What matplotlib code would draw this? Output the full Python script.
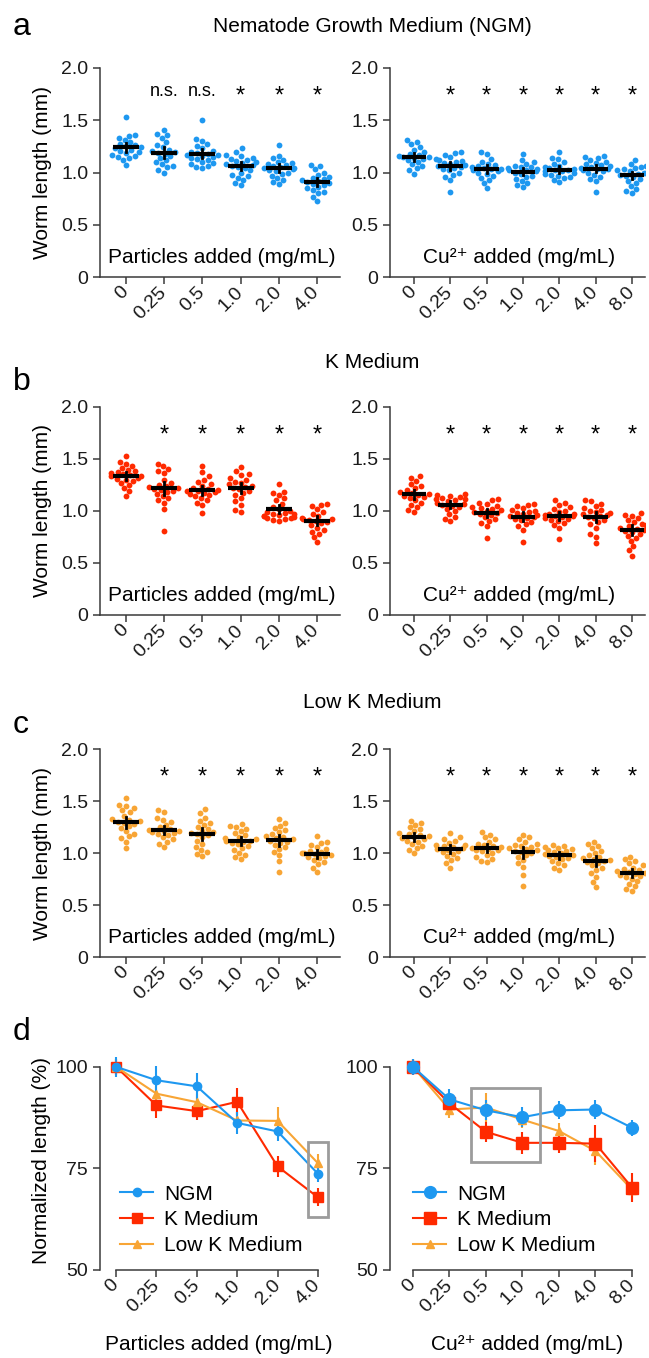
import numpy as np
import pandas as pd
import matplotlib
matplotlib.use('Agg')
import matplotlib.pyplot as plt
import seaborn as sns
from matplotlib.patches import Rectangle
from matplotlib.lines import Line2D

plt.rcParams['font.family'] = ['Liberation Sans', 'DejaVu Sans']

particle_doses = ['0', '0.25', '0.5', '1.0', '2.0', '4.0']
copper_doses = ['0', '0.25', '0.5', '1.0', '2.0', '4.0', '8.0']

# worm lengths (mm), one list per dose
ngm_particles = [
    [1.53, 1.36, 1.35, 1.33, 1.31, 1.29, 1.27, 1.26, 1.25, 1.24, 1.23, 1.22, 1.21, 1.20, 1.19, 1.17, 1.16, 1.15, 1.14, 1.12, 1.07],
    [1.41, 1.37, 1.36, 1.33, 1.29, 1.26, 1.24, 1.22, 1.21, 1.20, 1.19, 1.18, 1.16, 1.14, 1.12, 1.10, 1.08, 1.06, 1.05, 1.02, 1.00],
    [1.50, 1.32, 1.30, 1.27, 1.25, 1.23, 1.21, 1.20, 1.19, 1.18, 1.17, 1.16, 1.15, 1.13, 1.12, 1.10, 1.09, 1.08, 1.06, 1.05, 1.04, 1.14, 1.17],
    [1.23, 1.20, 1.17, 1.16, 1.14, 1.12, 1.10, 1.09, 1.08, 1.07, 1.06, 1.05, 1.04, 1.02, 1.00, 0.98, 0.97, 0.95, 0.93, 0.90, 0.88, 1.11, 1.13],
    [1.26, 1.16, 1.14, 1.12, 1.10, 1.09, 1.07, 1.06, 1.05, 1.04, 1.03, 1.02, 1.01, 1.00, 0.99, 0.97, 0.95, 0.93, 0.91, 0.89, 1.04, 1.08],
    [1.07, 1.06, 1.03, 1.00, 0.98, 0.96, 0.94, 0.93, 0.92, 0.91, 0.90, 0.89, 0.88, 0.86, 0.85, 0.83, 0.81, 0.80, 0.77, 0.73, 0.95],
]
ngm_copper = [
    [1.31, 1.29, 1.27, 1.24, 1.22, 1.20, 1.18, 1.17, 1.16, 1.15, 1.14, 1.13, 1.12, 1.10, 1.08, 1.06, 1.04, 1.02, 0.99, 1.15],
    [1.20, 1.19, 1.17, 1.15, 1.13, 1.11, 1.10, 1.08, 1.07, 1.06, 1.05, 1.04, 1.03, 1.02, 1.00, 0.98, 0.96, 0.93, 0.81, 1.09, 1.12],
    [1.20, 1.18, 1.13, 1.10, 1.08, 1.06, 1.05, 1.04, 1.03, 1.02, 1.01, 1.00, 0.99, 0.97, 0.95, 0.93, 0.90, 0.85, 1.07, 1.03],
    [1.18, 1.12, 1.10, 1.08, 1.06, 1.05, 1.04, 1.03, 1.02, 1.01, 1.00, 0.99, 0.97, 0.96, 0.94, 0.92, 0.90, 0.88, 0.86, 1.05, 1.02],
    [1.20, 1.14, 1.13, 1.10, 1.08, 1.06, 1.05, 1.04, 1.03, 1.02, 1.01, 1.00, 0.99, 0.98, 0.96, 0.95, 0.93, 0.91, 1.02, 1.01, 0.97],
    [1.16, 1.15, 1.14, 1.12, 1.10, 1.09, 1.08, 1.06, 1.05, 1.04, 1.03, 1.02, 1.01, 1.00, 0.98, 0.96, 0.94, 0.92, 0.81, 1.07, 1.03],
    [1.12, 1.08, 1.06, 1.05, 1.04, 1.03, 1.02, 1.01, 1.00, 0.99, 0.98, 0.97, 0.96, 0.94, 0.92, 0.90, 0.87, 0.84, 0.82, 0.80, 1.00],
]
k_particles = [
    [1.53, 1.47, 1.45, 1.43, 1.41, 1.39, 1.37, 1.36, 1.35, 1.34, 1.33, 1.32, 1.31, 1.30, 1.29, 1.27, 1.25, 1.22, 1.19, 1.14, 1.38, 1.33],
    [1.45, 1.43, 1.40, 1.38, 1.36, 1.30, 1.27, 1.25, 1.23, 1.22, 1.21, 1.20, 1.19, 1.18, 1.16, 1.14, 1.12, 1.10, 1.08, 1.02, 0.81, 1.24],
    [1.43, 1.37, 1.33, 1.30, 1.28, 1.26, 1.24, 1.22, 1.21, 1.20, 1.19, 1.18, 1.17, 1.16, 1.14, 1.12, 1.10, 1.08, 1.06, 0.98, 1.19, 1.15],
    [1.42, 1.38, 1.35, 1.34, 1.32, 1.30, 1.28, 1.26, 1.24, 1.23, 1.22, 1.21, 1.19, 1.17, 1.15, 1.12, 1.09, 1.06, 1.01, 0.99, 1.27],
    [1.26, 1.18, 1.17, 1.15, 1.12, 1.10, 1.07, 1.04, 1.02, 1.00, 0.99, 0.98, 0.97, 0.96, 0.95, 0.94, 0.93, 0.92, 0.91, 0.90, 0.95, 0.97, 0.93],
    [1.07, 1.06, 1.05, 1.02, 0.99, 0.97, 0.95, 0.93, 0.92, 0.91, 0.90, 0.89, 0.88, 0.86, 0.84, 0.82, 0.80, 0.78, 0.75, 0.70, 0.92],
]
k_copper = [
    [1.33, 1.32, 1.29, 1.26, 1.24, 1.22, 1.20, 1.18, 1.17, 1.16, 1.15, 1.14, 1.12, 1.10, 1.08, 1.06, 1.04, 1.01, 0.99, 1.13],
    [1.16, 1.15, 1.14, 1.13, 1.12, 1.11, 1.10, 1.09, 1.08, 1.07, 1.06, 1.05, 1.04, 1.02, 1.00, 0.97, 0.94, 0.92, 0.90, 1.11],
    [1.11, 1.10, 1.08, 1.07, 1.05, 1.04, 1.02, 1.01, 1.00, 0.99, 0.98, 0.97, 0.96, 0.94, 0.92, 0.90, 0.88, 0.85, 0.74, 1.03],
    [1.07, 1.06, 1.05, 1.03, 1.01, 0.99, 0.98, 0.97, 0.96, 0.95, 0.94, 0.93, 0.92, 0.91, 0.89, 0.87, 0.85, 0.82, 0.70, 1.00],
    [1.10, 1.08, 1.06, 1.04, 1.02, 1.00, 0.99, 0.97, 0.96, 0.95, 0.94, 0.93, 0.92, 0.91, 0.90, 0.88, 0.86, 0.84, 0.73, 0.97, 0.95],
    [1.10, 1.09, 1.07, 1.05, 1.03, 1.01, 0.99, 0.98, 0.97, 0.96, 0.95, 0.94, 0.93, 0.91, 0.89, 0.87, 0.84, 0.78, 0.75, 0.69, 1.00],
    [0.98, 0.96, 0.95, 0.93, 0.91, 0.89, 0.87, 0.85, 0.84, 0.83, 0.82, 0.81, 0.80, 0.78, 0.76, 0.74, 0.71, 0.66, 0.62, 0.57, 0.86],
]
lowk_particles = [
    [1.53, 1.46, 1.45, 1.43, 1.41, 1.39, 1.36, 1.33, 1.31, 1.30, 1.29, 1.28, 1.26, 1.24, 1.21, 1.18, 1.16, 1.14, 1.11, 1.05, 1.32],
    [1.41, 1.39, 1.34, 1.32, 1.30, 1.27, 1.25, 1.23, 1.22, 1.21, 1.20, 1.19, 1.18, 1.17, 1.15, 1.13, 1.11, 1.09, 1.06, 1.21],
    [1.42, 1.38, 1.34, 1.31, 1.29, 1.27, 1.25, 1.23, 1.21, 1.19, 1.18, 1.17, 1.15, 1.12, 1.09, 1.06, 1.03, 1.01, 0.99, 0.97, 1.20],
    [1.28, 1.26, 1.25, 1.23, 1.21, 1.19, 1.17, 1.15, 1.13, 1.12, 1.11, 1.10, 1.09, 1.07, 1.05, 1.03, 1.00, 0.98, 0.96, 0.94, 1.14, 1.12],
    [1.33, 1.29, 1.26, 1.24, 1.22, 1.20, 1.18, 1.16, 1.14, 1.13, 1.12, 1.11, 1.10, 1.08, 1.06, 1.04, 1.01, 0.98, 0.92, 0.82, 1.15],
    [1.16, 1.11, 1.10, 1.08, 1.06, 1.04, 1.02, 1.01, 1.00, 0.99, 0.98, 0.97, 0.96, 0.95, 0.93, 0.91, 0.89, 0.86, 0.82, 1.00],
]
lowk_copper = [
    [1.31, 1.29, 1.27, 1.25, 1.23, 1.21, 1.19, 1.18, 1.17, 1.16, 1.15, 1.14, 1.13, 1.11, 1.09, 1.07, 1.05, 1.03, 1.00, 1.12],
    [1.19, 1.15, 1.13, 1.12, 1.10, 1.08, 1.07, 1.06, 1.05, 1.04, 1.03, 1.02, 1.01, 0.99, 0.97, 0.95, 0.93, 0.90, 0.86, 1.08],
    [1.20, 1.17, 1.15, 1.13, 1.11, 1.09, 1.08, 1.07, 1.06, 1.05, 1.04, 1.03, 1.02, 1.00, 0.98, 0.96, 0.94, 0.92, 0.91, 1.03],
    [1.17, 1.15, 1.13, 1.11, 1.09, 1.08, 1.06, 1.05, 1.04, 1.03, 1.02, 1.01, 1.00, 0.98, 0.96, 0.93, 0.90, 0.87, 0.79, 0.68, 1.07],
    [1.08, 1.07, 1.06, 1.05, 1.04, 1.03, 1.01, 1.00, 0.99, 0.98, 0.97, 0.96, 0.95, 0.94, 0.92, 0.90, 0.88, 0.86, 0.84, 1.02],
    [1.11, 1.09, 1.07, 1.05, 1.02, 1.00, 0.98, 0.96, 0.94, 0.93, 0.92, 0.91, 0.90, 0.88, 0.86, 0.84, 0.81, 0.77, 0.72, 0.67, 0.95],
    [0.96, 0.94, 0.92, 0.90, 0.88, 0.86, 0.85, 0.84, 0.82, 0.81, 0.80, 0.79, 0.78, 0.77, 0.75, 0.73, 0.70, 0.68, 0.65, 0.63, 0.83],
]

sig_ngm_particles = ['', 'n.s.', 'n.s.', '*', '*', '*']
sig_particles = ['', '*', '*', '*', '*', '*']
sig_copper = ['', '*', '*', '*', '*', '*', '*']

# normalized length (%) and error, panel d
norm_ngm_particles = [100, 96.7, 95.2, 86.2, 84.1, 73.7]
norm_ngm_particles_err = [2.5, 3.4, 3.3, 2.7, 2.4, 2.1]
norm_k_particles = [100, 90.5, 89.1, 91.4, 75.5, 67.9]
norm_k_particles_err = [2.0, 3.2, 2.3, 3.3, 2.6, 2.2]
norm_lowk_particles = [100, 93.4, 91.3, 86.8, 86.7, 76.3]
norm_lowk_particles_err = [2.0, 2.0, 2.0, 2.0, 3.3, 2.3]
norm_ngm_copper = [100, 92.0, 89.3, 87.6, 89.3, 89.5, 85.0]
norm_ngm_copper_err = [2.0, 2.5, 2.5, 2.5, 2.2, 2.3, 2.0]
norm_k_copper = [100, 91.0, 84.0, 81.3, 81.3, 81.1, 70.3]
norm_k_copper_err = [2.0, 2.0, 2.4, 2.7, 2.5, 4.5, 3.5]
norm_lowk_copper = [100, 89.5, 90.0, 87.0, 84.2, 79.3, 69.8]
norm_lowk_copper_err = [2.0, 2.0, 3.5, 2.0, 2.0, 3.5, 2.5]

BLUE = '#1e98f0'
RED = '#ff2a00'
ORANGE = '#f8a535'
AXC = '#3a3a3a'

W, H = 649, 1358
fig = plt.figure(figsize=(W / 100, H / 100), dpi=100)


def add_ax(left, top, right, bottom):
    return fig.add_axes([left / W, 1 - bottom / H, (right - left) / W, (bottom - top) / H])


def style_axes(ax):
    for s in ['top', 'right']:
        ax.spines[s].set_visible(False)
    for s in ['left', 'bottom']:
        ax.spines[s].set_color(AXC)
        ax.spines[s].set_linewidth(1.1)
    ax.tick_params(direction='out', length=5, width=1.1, color=AXC, labelsize=14, labelcolor='#1a1a1a')
    ax.tick_params(axis='x', pad=4)


def scatter_panel(ax, doses, groups, color, sig, xlabel, xlim, ylabel):
    df = pd.DataFrame({'dose': [d for d, g in zip(doses, groups) for _ in g],
                       'length': [v for g in groups for v in g]})
    sns.swarmplot(data=df, x='dose', y='length', order=doses, color=color, size=4.2,
                  ax=ax, zorder=1, linewidth=0)
    for i, g in enumerate(groups):
        m = np.mean(g)
        ci = 1.96 * np.std(g, ddof=1) / np.sqrt(len(g))
        ax.plot([i - 0.34, i + 0.34], [m, m], color='black', lw=3, solid_capstyle='butt', zorder=3)
        ax.plot([i, i], [m - ci, m + ci], color='black', lw=2, zorder=3)
        if sig[i] == '*':
            ax.text(i, 1.665, '*', ha='center', va='baseline', fontsize=17)
        elif sig[i]:
            ax.text(i, 1.735, sig[i], ha='center', va='baseline', fontsize=13)
    ax.text(np.mean(xlim) + 0.05, 0.19, xlabel, ha='center', va='center', fontsize=15)
    ax.set_xlim(*xlim)
    ax.set_ylim(0, 2.0)
    ax.set_yticks([0, 0.5, 1.0, 1.5, 2.0])
    ax.set_yticklabels(['0', '0.5', '1.0', '1.5', '2.0'])
    ax.set_xticks(range(len(doses)))
    ax.set_xticklabels(doses, rotation=45, ha='right', va='center', rotation_mode='anchor')
    ax.set_xlabel('')
    style_axes(ax)
    if ylabel:
        ax.set_ylabel('Worm length (mm)', fontsize=15)
        ax.yaxis.set_label_coords(-0.2, 0.5)
    else:
        ax.set_ylabel('')


particle_label = 'Particles added (mg/mL)'
copper_label = 'Cu²⁺ added (mg/mL)'

rows = [
    (68, 277, ngm_particles, ngm_copper, BLUE, sig_ngm_particles),
    (406.7, 615, k_particles, k_copper, RED, sig_particles),
    (749, 957, lowk_particles, lowk_copper, ORANGE, sig_particles),
]
for top, bottom, left_data, right_data, color, sig_left in rows:
    axl = add_ax(100, top, 340, bottom)
    scatter_panel(axl, particle_doses, left_data, color, sig_left, particle_label, (-0.68, 5.6), True)
    axr = add_ax(390, top, 645, bottom)
    scatter_panel(axr, copper_doses, right_data, color, sig_copper, copper_label, (-0.66, 6.36), False)


def line_panel(ax, doses, series, box, xlim, ylabel, legend_x):
    x = np.arange(len(doses))
    handles = {}
    for y, e, c, mk, ms, lab in series:
        ax.errorbar(x, y, yerr=e, color=c, marker=mk, markersize=ms, lw=1.5, elinewidth=1.5,
                    capsize=0, clip_on=False, zorder=3)
        handles[lab] = Line2D([], [], color=c, marker=mk, markersize=ms, lw=1.5)
    ax.add_patch(Rectangle((box[0], box[1]), box[2] - box[0], box[3] - box[1], fill=False,
                           edgecolor='#9c9c9c', lw=2, zorder=4))
    ax.set_xlim(*xlim)
    ax.set_ylim(50, 103.9)
    ax.set_yticks([50, 75, 100])
    ax.set_xticks(x)
    ax.set_xticklabels(doses, rotation=45, ha='right', va='center', rotation_mode='anchor')
    ax.spines['bottom'].set_bounds(0, len(doses) - 1)
    ax.spines['left'].set_bounds(50, 100)
    style_axes(ax)
    if ylabel:
        ax.set_ylabel('Normalized length (%)', fontsize=15)
        ax.yaxis.set_label_coords(-0.213, 0.5)
    names = ['NGM', 'K Medium', 'Low K Medium']
    ax.legend([handles[n] for n in names], names, loc='upper left',
              bbox_to_anchor=(legend_x, 0.39), frameon=False, fontsize=15, borderpad=0,
              borderaxespad=0, handlelength=1.6, handletextpad=0.5, labelspacing=0.33)


axd1 = add_ax(100, 1051, 330, 1270)
line_panel(axd1, particle_doses,
           [(norm_k_particles, norm_k_particles_err, RED, 's', 7.5, 'K Medium'),
            (norm_lowk_particles, norm_lowk_particles_err, ORANGE, '^', 5.5, 'Low K Medium'),
            (norm_ngm_particles, norm_ngm_particles_err, BLUE, 'o', 6, 'NGM')],
           (4.76, 63, 5.26, 81.5), (-0.4, 5.3), True, 0.087)
axd2 = add_ax(390, 1051, 646.6, 1270)
line_panel(axd2, copper_doses,
           [(norm_lowk_copper, norm_lowk_copper_err, ORANGE, '^', 6, 'Low K Medium'),
            (norm_k_copper, norm_k_copper_err, RED, 's', 8.5, 'K Medium'),
            (norm_ngm_copper, norm_ngm_copper_err, BLUE, 'o', 8.5, 'NGM')],
           (1.6, 76.7, 3.48, 94.8), (-0.63, 6.4), False, 0.09)

fig.text(219 / W, 1 - 1345 / H, particle_label, ha='center', va='center', fontsize=15)
fig.text(527 / W, 1 - 1345 / H, copper_label, ha='center', va='center', fontsize=15)

fig.text(372 / W, 1 - 27 / H, 'Nematode Growth Medium (NGM)', ha='center', va='center', fontsize=15)
fig.text(372 / W, 1 - 363 / H, 'K Medium', ha='center', va='center', fontsize=15)
fig.text(372 / W, 1 - 702 / H, 'Low K Medium', ha='center', va='center', fontsize=15)

for letter, base in [('a', 35), ('b', 390), ('c', 733), ('d', 1040)]:
    fig.text(13 / W, 1 - base / H, letter, ha='left', va='baseline', fontsize=23)

fig.savefig('out.png', dpi=100)
